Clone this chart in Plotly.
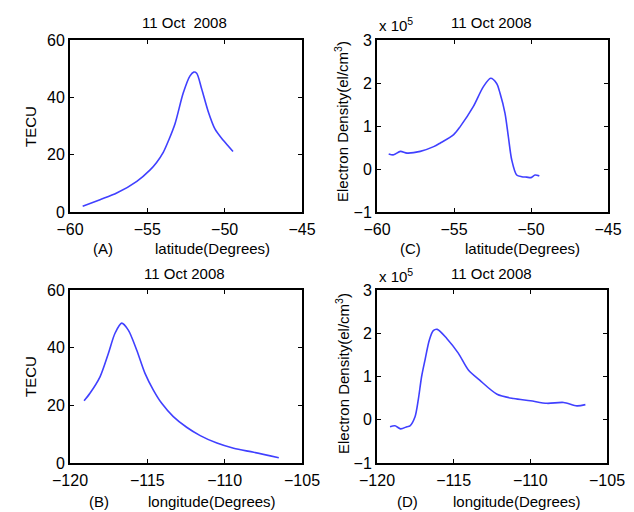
import plotly.graph_objects as go

# Panel A: TECU vs latitude
lat_a = [-59.18, -58.06, -56.98, -55.68, -54.82, -54.4, -53.97, -53.6, -53.21, -52.68,
         -52.24, -52.0, -51.81, -51.49, -51.06, -50.63, -50.09, -49.46]
tec_a = [2.0, 4.3, 6.6, 10.7, 14.7, 17.3, 20.8, 25.3, 30.8, 41.5, 47.5, 48.8, 48.4, 43.0,
         35.0, 29.0, 25.0, 21.1]

# Panel B: TECU vs longitude
lon_b = [-119.09, -118.71, -118.06, -117.52, -117.09, -116.66, -116.23, -115.69, -115.15,
         -114.61, -114.07, -113.32, -112.46, -111.58, -110.5, -109.42, -108.12, -106.5]
tec_b = [21.6, 24.2, 29.9, 38.0, 45.0, 48.5, 46.1, 39.2, 31.1, 25.3, 20.7, 16.1, 12.4, 9.5,
         6.9, 5.1, 3.7, 1.8]

# Panel C: electron density (x 10^5 el/cm^3) vs latitude
lat_c = [-59.24, -58.92, -58.48, -58.05, -57.19, -56.32, -55.91, -55.02, -54.61, -53.75,
         -53.1, -52.62, -52.23, -52.01, -51.69, -51.47, -51.25, -50.93, -50.6, -50.28,
         -50.0, -49.74, -49.46]
ne_c = [0.35, 0.33, 0.41, 0.37, 0.41, 0.52, 0.60, 0.80, 0.98, 1.45, 1.91, 2.11, 1.99, 1.76,
        1.30, 0.75, 0.21, -0.14, -0.18, -0.19, -0.20, -0.14, -0.16]

# Panel D: electron density (x 10^5 el/cm^3) vs longitude
lon_d = [-119.15, -118.83, -118.46, -118.04, -117.85, -117.52, -117.31, -117.09, -116.87,
         -116.59, -116.33, -116.07, -115.45, -114.7, -114.04, -113.32, -112.17, -111.09,
         -110.0, -108.91, -107.83, -106.96, -106.41]
ne_d = [-0.16, -0.14, -0.21, -0.16, -0.14, 0.07, 0.46, 1.0, 1.38, 1.84, 2.06, 2.09, 1.88,
        1.54, 1.15, 0.92, 0.59, 0.49, 0.44, 0.38, 0.40, 0.32, 0.35]

# the page body adds an 8px margin, so the figure is drawn 8px smaller and shifted
OFF = 8
W, H = 634 - OFF, 512 - OFF
FONT = "Liberation Sans, Arial, sans-serif"
LINE = "#4040ff"
TXT = 15

def px(x):
    return (x - OFF) / W

def py(y):
    return 1 - (y - OFF) / H

fig = go.Figure()
panels = [
    ("x", "y", lat_a, tec_a, (70, 302), (40, 212), [-60, -45], [0, 60], 20),
    ("x2", "y2", lat_c, ne_c, (377, 608), (40, 212), [-60, -45], [-1, 3], 1),
    ("x3", "y3", lon_b, tec_b, (70, 302), (290, 463), [-120, -105], [0, 60], 20),
    ("x4", "y4", lon_d, ne_d, (377, 607), (290, 463), [-120, -105], [-1, 3], 1),
]

layout = dict(
    template="none",
    width=W, height=H, margin=dict(l=0, r=0, t=0, b=0, autoexpand=False),
    paper_bgcolor="white", plot_bgcolor="white", showlegend=False,
    font=dict(family=FONT, size=TXT, color="black"),
)

for i, (xa, ya, xs, ys, xr, yr, xrange, yrange, dy) in enumerate(panels):
    fig.add_trace(go.Scatter(x=xs, y=ys, mode="lines",
                             line=dict(color=LINE, width=1.6, shape="spline", smoothing=0.8),
                             xaxis=xa, yaxis=ya))
    sfx = "" if i == 0 else str(i + 1)
    common = dict(showgrid=False, zeroline=False, showline=True, linecolor="black",
                  linewidth=2, mirror="allticks", ticks="inside", ticklen=4,
                  tickcolor="black", automargin=False,
                  tickfont=dict(family=FONT, size=16, color="black"))
    layout["xaxis" + sfx] = dict(common, domain=[px(xr[0]), px(xr[1])], range=xrange,
                                 dtick=5, anchor="y" + sfx, ticklabelstandoff=2)
    layout["yaxis" + sfx] = dict(common, domain=[py(yr[1]), py(yr[0])], range=yrange,
                                 dtick=dy, anchor="x" + sfx)

fig.update_layout(**layout)

anns = []
def ann(x, y, text, angle=0, size=TXT, xanchor="center"):
    anns.append(dict(x=px(x), y=py(y), xref="paper", yref="paper", text=text,
                     showarrow=False, textangle=angle, xanchor=xanchor, yanchor="middle",
                     font=dict(family=FONT, size=size, color="black")))

# titles
ann(184, 22, "11 Oct  2008")
ann(491, 22, "11 Oct 2008")
ann(184, 273, "11 Oct 2008")
ann(491, 273, "11 Oct 2008")
# y labels
ann(30, 127, "TECU", -90)
ann(30, 377, "TECU", -90)
ann(342, 122, "Electron Density(el/cm<sup>3</sup>)", -90)
ann(342, 374, "Electron Density(el/cm<sup>3</sup>)", -90)
# exponent labels
ann(377, 24, "x 10<sup>5</sup>", xanchor="left")
ann(377, 275, "x 10<sup>5</sup>", xanchor="left")
# x labels
ann(103, 248, "(A)")
ann(212, 248, "latitude(Degrees)")
ann(410, 248, "(C)")
ann(522, 248, "latitude(Degrees)")
ann(99, 501, "(B)")
ann(212, 501, "longitude(Degrees)")
ann(407, 501, "(D)")
ann(517, 501, "longitude(Degrees)")

fig.update_layout(annotations=anns)
fig.write_html("out.html")
